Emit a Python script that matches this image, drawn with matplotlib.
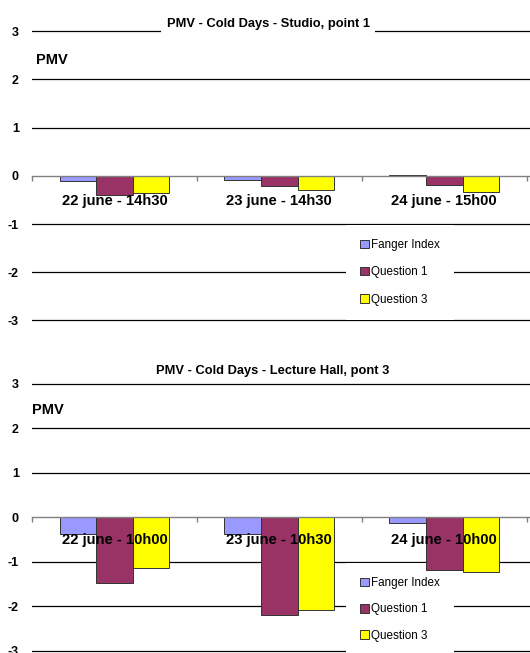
#import section
import matplotlib
matplotlib.use("Agg")
import matplotlib.pyplot as plt
import numpy as np

plt.rcParams['font.family'] = ['Liberation Sans', 'DejaVu Sans']

# data
categories_top = ["22 june - 14h30", "23 june - 14h30", "24 june - 15h00"]
categories_bottom = ["22 june - 10h00", "23 june - 10h30", "24 june - 10h00"]
series_names = ["Fanger Index", "Question 1", "Question 3"]
colors = ["#9999FF", "#993366", "#FFFF00"]

top_fanger = [-0.11, -0.09, 0.01]
top_q1 = [-0.40, -0.22, -0.19]
top_q3 = [-0.35, -0.29, -0.33]

bottom_fanger = [-0.37, -0.37, -0.13]
bottom_q1 = [-1.47, -2.19, -1.19]
bottom_q3 = [-1.13, -2.09, -1.23]

titles = ["PMV - Cold Days - Studio, point 1", "PMV - Cold Days - Lecture Hall, pont 3"]


def draw_panel(ax, cats, series, title, label_pad, title_pos, pmv_pos, leg_y, leg_sp):
    x = np.arange(len(cats))
    w = 0.222
    for i, (vals, name, c) in enumerate(zip(series, series_names, colors)):
        ax.bar(x + (i - 1) * w, vals, w, color=c, edgecolor="#333333",
               linewidth=0.7, label=name, zorder=2)
    ax.set_axisbelow(False)
    ax.set_xlim(-0.5, 2.52)
    ax.set_ylim(-3.05, 3.05)
    # gridlines
    ax.set_yticks([-3, -2, -1, 0, 1, 2, 3])
    ax.set_yticklabels(["-3", "-2", "-1", "0", "1", "2", "3"],
                       fontsize=9, fontweight="bold")
    ax.tick_params(axis="y", length=0, pad=9.5)
    for yv in [-3, -2, -1, 1, 2, 3]:
        ax.axhline(yv, color="black", linewidth=0.9, zorder=1)
    for s in ["top", "right", "left"]:
        ax.spines[s].set_visible(False)
    ax.spines["bottom"].set_position(("data", 0))
    ax.spines["bottom"].set_color("#808080")
    ax.spines["bottom"].set_linewidth(1.0)
    ax.set_xticks([-0.5, 0.5, 1.5, 2.5])
    ax.set_xticklabels(["", "", "", ""])
    ax.tick_params(axis="x", which="major", direction="out", length=3.5,
                   color="#808080", width=1.0)
    ax.set_xticks(x, minor=True)
    ax.set_xticklabels(cats, minor=True, fontsize=10.6, fontweight="bold")
    ax.tick_params(axis="x", which="minor", length=0, pad=label_pad)
    ax.annotate(title, xy=(title_pos[0], 3), xycoords=("axes fraction", "data"),
                xytext=(0, title_pos[1]), textcoords="offset points",
                ha="center", va="center", fontsize=9.3, fontweight="bold",
                bbox=dict(facecolor="white", edgecolor="none", pad=title_pos[2]),
                zorder=4)
    ax.text(pmv_pos[0], pmv_pos[1], "PMV", transform=ax.transAxes,
            fontsize=10.5, fontweight="bold", ha="left", va="center")
    leg = ax.legend(loc="center left", bbox_to_anchor=(0.6305, leg_y),
                    fontsize=8.4, frameon=True, fancybox=False, borderaxespad=0,
                    borderpad=1.2, labelspacing=leg_sp, handlelength=0.75,
                    handleheight=0.75, handletextpad=0.2)
    leg.get_frame().set_facecolor("white")
    leg.get_frame().set_edgecolor("none")
    leg.get_frame().set_alpha(1)
    leg.set_zorder(1.5)


fig = plt.figure(figsize=(5.3, 6.53), dpi=100)
ax1 = fig.add_axes([0.0604, 0.5055, 0.9396, 0.4507])
ax2 = fig.add_axes([0.0604, 0.0, 0.9396, 0.4156])

draw_panel(ax1, categories_top, [top_fanger, top_q1, top_q3], titles[0],
           13.1, (0.474, 5.2, 4.0), (0.009, 0.893), 0.1721, 1.31)
draw_panel(ax2, categories_bottom, [bottom_fanger, bottom_q1, bottom_q3], titles[1],
           11.2, (0.483, 9.2, 1.0), (-0.001, 0.894), 0.1607, 1.21)

fig.savefig("out.png", dpi=100)
